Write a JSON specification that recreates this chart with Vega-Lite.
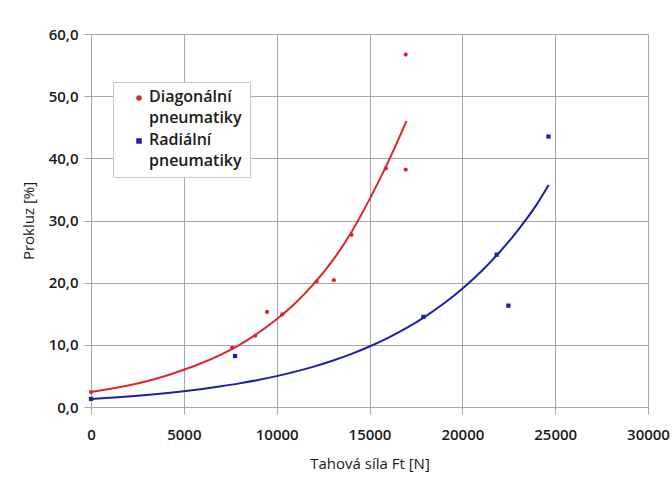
{
  "$schema": "https://vega.github.io/schema/vega-lite/v6.json",
  "autosize": {"type": "none"},
  "width": 557,
  "height": 373,
  "padding": {"left": 91, "top": 34, "right": 24, "bottom": 71},
  "background": "white",
  "datasets": {
    "curves": [
      {"series": "Diagonální pneumatiky", "ft": 0, "s": 2.4},
      {"series": "Diagonální pneumatiky", "ft": 1000, "s": 2.88},
      {"series": "Diagonální pneumatiky", "ft": 2000, "s": 3.46},
      {"series": "Diagonální pneumatiky", "ft": 3000, "s": 4.15},
      {"series": "Diagonální pneumatiky", "ft": 4000, "s": 4.99},
      {"series": "Diagonální pneumatiky", "ft": 5000, "s": 5.99},
      {"series": "Diagonální pneumatiky", "ft": 6000, "s": 7.11},
      {"series": "Diagonální pneumatiky", "ft": 7000, "s": 8.43},
      {"series": "Diagonální pneumatiky", "ft": 8000, "s": 10.0},
      {"series": "Diagonální pneumatiky", "ft": 9000, "s": 11.9},
      {"series": "Diagonální pneumatiky", "ft": 10000, "s": 14.1},
      {"series": "Diagonální pneumatiky", "ft": 11000, "s": 16.7},
      {"series": "Diagonální pneumatiky", "ft": 12000, "s": 19.8},
      {"series": "Diagonální pneumatiky", "ft": 13000, "s": 23.5},
      {"series": "Diagonální pneumatiky", "ft": 14000, "s": 28.0},
      {"series": "Diagonální pneumatiky", "ft": 15000, "s": 33.4},
      {"series": "Diagonální pneumatiky", "ft": 16000, "s": 39.4},
      {"series": "Diagonální pneumatiky", "ft": 16990, "s": 46.0},
      {"series": "Radiální pneumatiky", "ft": 0, "s": 1.3},
      {"series": "Radiální pneumatiky", "ft": 1000, "s": 1.49},
      {"series": "Radiální pneumatiky", "ft": 2000, "s": 1.7},
      {"series": "Radiální pneumatiky", "ft": 3000, "s": 1.94},
      {"series": "Radiální pneumatiky", "ft": 4000, "s": 2.22},
      {"series": "Radiální pneumatiky", "ft": 5000, "s": 2.54},
      {"series": "Radiální pneumatiky", "ft": 6000, "s": 2.91},
      {"series": "Radiální pneumatiky", "ft": 7000, "s": 3.33},
      {"series": "Radiální pneumatiky", "ft": 8000, "s": 3.8},
      {"series": "Radiální pneumatiky", "ft": 9000, "s": 4.35},
      {"series": "Radiální pneumatiky", "ft": 10000, "s": 4.97},
      {"series": "Radiální pneumatiky", "ft": 11000, "s": 5.69},
      {"series": "Radiální pneumatiky", "ft": 12000, "s": 6.5},
      {"series": "Radiální pneumatiky", "ft": 13000, "s": 7.44},
      {"series": "Radiální pneumatiky", "ft": 14000, "s": 8.51},
      {"series": "Radiální pneumatiky", "ft": 15000, "s": 9.73},
      {"series": "Radiální pneumatiky", "ft": 16000, "s": 11.13},
      {"series": "Radiální pneumatiky", "ft": 17000, "s": 12.72},
      {"series": "Radiální pneumatiky", "ft": 18000, "s": 14.55},
      {"series": "Radiální pneumatiky", "ft": 19000, "s": 16.64},
      {"series": "Radiální pneumatiky", "ft": 20000, "s": 19.03},
      {"series": "Radiální pneumatiky", "ft": 21000, "s": 21.76},
      {"series": "Radiální pneumatiky", "ft": 22000, "s": 24.89},
      {"series": "Radiální pneumatiky", "ft": 23000, "s": 28.46},
      {"series": "Radiální pneumatiky", "ft": 24000, "s": 32.55},
      {"series": "Radiální pneumatiky", "ft": 24650, "s": 35.7}
    ],
    "points": [
      {"series": "Diagonální pneumatiky", "ft": 0, "s": 2.4},
      {"series": "Diagonální pneumatiky", "ft": 7600, "s": 9.5},
      {"series": "Diagonální pneumatiky", "ft": 8850, "s": 11.5},
      {"series": "Diagonální pneumatiky", "ft": 9480, "s": 15.3},
      {"series": "Diagonální pneumatiky", "ft": 10300, "s": 14.9},
      {"series": "Diagonální pneumatiky", "ft": 12150, "s": 20.2},
      {"series": "Diagonální pneumatiky", "ft": 13080, "s": 20.4},
      {"series": "Diagonální pneumatiky", "ft": 14030, "s": 27.7},
      {"series": "Diagonální pneumatiky", "ft": 15880, "s": 38.4},
      {"series": "Diagonální pneumatiky", "ft": 16950, "s": 38.2},
      {"series": "Diagonální pneumatiky", "ft": 16950, "s": 56.7},
      {"series": "Radiální pneumatiky", "ft": 0, "s": 1.3},
      {"series": "Radiální pneumatiky", "ft": 7760, "s": 8.2},
      {"series": "Radiální pneumatiky", "ft": 17900, "s": 14.5},
      {"series": "Radiální pneumatiky", "ft": 21850, "s": 24.5},
      {"series": "Radiální pneumatiky", "ft": 22480, "s": 16.3},
      {"series": "Radiální pneumatiky", "ft": 24640, "s": 43.5}
    ]
  },
  "encoding": {
    "x": {
      "field": "ft", "type": "quantitative",
      "scale": {"domain": [0, 30000], "nice": false},
      "axis": {
        "values": [0, 5000, 10000, 15000, 20000, 25000, 30000],
        "format": "d",
        "title": "Tahová síla Ft [N]",
        "titlePadding": 14
      }
    },
    "y": {
      "field": "s", "type": "quantitative",
      "scale": {"domain": [0, 60], "nice": false},
      "axis": {
        "values": [0, 10, 20, 30, 40, 50, 60],
        "labelExpr": "replace(format(datum.value, '.1f'), '.', ',')",
        "title": "Prokluz [%]",
        "titlePadding": 12
      }
    },
    "color": {
      "field": "series", "type": "nominal",
      "scale": {"domain": ["Diagonální pneumatiky", "Radiální pneumatiky"], "range": ["#de2430", "#1e1ea8"]},
      "legend": {
        "title": null,
        "orient": "none",
        "legendX": 22,
        "legendY": 48,
        "padding": 8,
        "strokeColor": "#c8c8c8",
        "fillColor": "white",
        "labelExpr": "split(datum.label, ' ')",
        "labelBaseline": "top",
        "labelOffset": 2,
        "symbolOffset": 10,
        "symbolSize": 16,
        "rowPadding": 6,
        "encode": {"labels": {"update": {"lineHeight": {"value": 21}, "dy": {"value": -9}}}}
      }
    }
  },
  "layer": [
    {
      "data": {"name": "curves"},
      "mark": {"type": "line", "strokeWidth": 2, "interpolate": "monotone"}
    },
    {
      "data": {"name": "points"},
      "mark": {"type": "point", "filled": true, "opacity": 1, "size": 18},
      "encoding": {
        "shape": {
          "field": "series", "type": "nominal",
          "scale": {"domain": ["Diagonální pneumatiky", "Radiální pneumatiky"], "range": ["circle", "square"]}
        }
      }
    }
  ],
  "config": {
    "font": "Open Sans",
    "view": {"stroke": null},
    "axis": {
      "grid": true,
      "gridColor": "#a8a8a8",
      "gridWidth": 1,
      "gridOpacity": 1,
      "domainColor": "#a8a8a8",
      "domainWidth": 1,
      "tickColor": "#a8a8a8",
      "tickSize": 7,
      "labelFlush": false,
      "labelFont": "Open Sans",
      "labelFontSize": 15,
      "labelFontWeight": 600,
      "labelColor": "#1a1a1a",
      "labelPadding": 6,
      "titleFont": "Open Sans",
      "titleFontSize": 15,
      "titleFontWeight": "normal",
      "titleColor": "#1a1a1a"
    },
    "axisX": {"labelPadding": 13},
    "legend": {
      "labelFont": "Open Sans",
      "labelFontSize": 16,
      "labelFontWeight": 600,
      "labelColor": "#1a1a1a",
      "labelLimit": 200
    }
  }
}
